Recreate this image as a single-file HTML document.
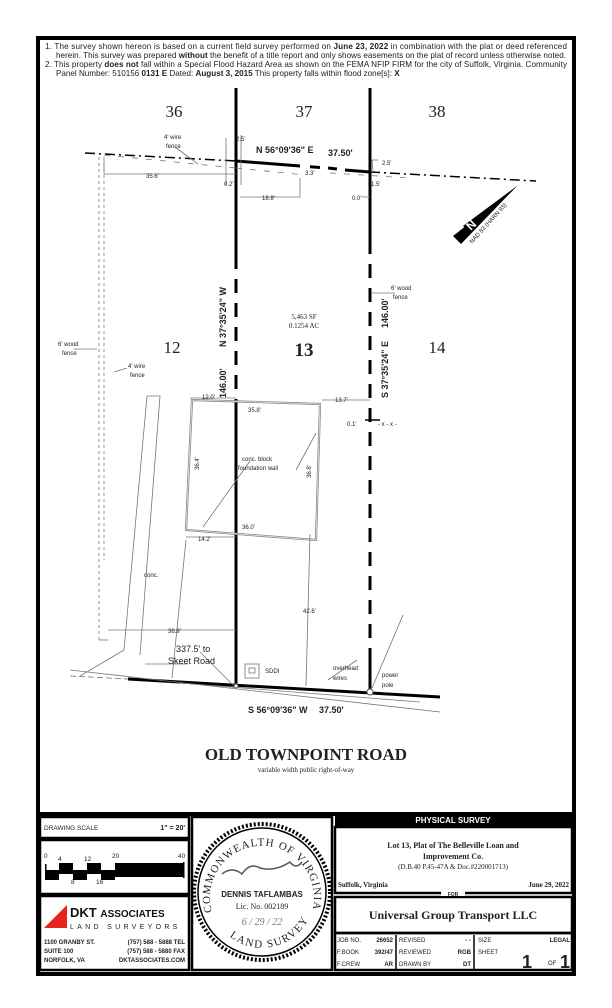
<!DOCTYPE html>
<html><head><meta charset="utf-8"><style>
html,body{margin:0;padding:0;background:#fff}
svg{display:block}
text{font-family:"Liberation Sans",sans-serif;fill:#222}
.s{font-family:"Liberation Serif",serif}
</style></head><body>
<svg width="612" height="1008" viewBox="0 0 612 1008" xmlns="http://www.w3.org/2000/svg">
<rect x="38" y="38" width="536" height="936" fill="none" stroke="#000" stroke-width="4"/>
<line x1="38" y1="814" x2="574" y2="814" stroke="#000" stroke-width="4"/>
<g font-size="8.1">
<text x="45" y="49" textLength="522" lengthAdjust="spacing">1.  The survey shown hereon is based on a current field survey performed on <tspan font-weight="bold">June 23, 2022</tspan> in combination with the plat or deed referenced</text>
<text x="56" y="58" textLength="510" lengthAdjust="spacing">herein. This survey was prepared <tspan font-weight="bold">without</tspan> the benefit of a title report and only shows easements on the plat of record unless otherwise noted.</text>
<text x="45" y="67" textLength="522" lengthAdjust="spacing">2.  This property <tspan font-weight="bold">does not</tspan> fall within a Special Flood Hazard Area as shown on the FEMA NFIP FIRM for the city of Suffolk, Virginia. Community</text>
<text x="56" y="76">Panel Number: 510156 <tspan font-weight="bold">0131 E</tspan>  Dated: <tspan font-weight="bold">August 3, 2015</tspan>  This property falls within flood zone[s]:  <tspan font-weight="bold">X</tspan></text>
</g>
<g font-size="17" text-anchor="middle">
<text class="s" x="174" y="117">36</text><text class="s" x="304" y="117">37</text><text class="s" x="437" y="117">38</text>
<text class="s" x="172" y="353">12</text><text class="s" x="304" y="356" font-weight="bold" font-size="19">13</text><text class="s" x="437" y="353">14</text>
</g>
<g stroke="#000" stroke-width="3" fill="none">
<line x1="236" y1="88" x2="236" y2="255"/>
<line x1="236" y1="255" x2="236" y2="686" stroke-dasharray="14,10"/>
<line x1="236" y1="400" x2="236" y2="686"/>
<line x1="370" y1="88" x2="370" y2="240"/>
<line x1="370" y1="240" x2="370" y2="692" stroke-dasharray="14,10"/>
<line x1="370" y1="650" x2="370" y2="692"/>
<line x1="236" y1="161" x2="300" y2="166"/>
<line x1="310" y1="166.7" x2="320" y2="167.5"/>
<line x1="328" y1="168" x2="337" y2="169"/>
<line x1="345" y1="170" x2="370" y2="172"/>
<line x1="128" y1="679" x2="440" y2="697"/>
</g>
<line x1="85" y1="153" x2="236" y2="161" stroke="#000" stroke-width="1.5" stroke-dasharray="10,4,2,4"/>
<line x1="370" y1="172" x2="536" y2="181" stroke="#000" stroke-width="1.5" stroke-dasharray="10,4,2,4"/>
<g stroke="#777" stroke-width="0.8" fill="none">
<line x1="104" y1="155" x2="236" y2="168" stroke-dasharray="6,8"/>
<line x1="236" y1="168" x2="305" y2="175" stroke-dasharray="6,8"/>
<line x1="330" y1="173" x2="410" y2="178" stroke-dasharray="6,8"/>
<line x1="99" y1="157" x2="99" y2="640" stroke-dasharray="3,3"/>
<line x1="104" y1="157" x2="104" y2="560" stroke-dasharray="3,3"/>
<line x1="99" y1="640" x2="108" y2="640"/>
<line x1="70" y1="670" x2="440" y2="712"/>
<line x1="70" y1="676" x2="128" y2="679" stroke-dasharray="6,3"/>
<line x1="180" y1="683" x2="420" y2="702"/>
<polyline points="147,396 160,396 140,655"/>
<line x1="147" y1="396" x2="124" y2="650"/>
<line x1="124" y1="650" x2="80" y2="676"/>
<line x1="186" y1="540" x2="172" y2="678"/>
<polygon points="192,400 320,404 316,540 186,530" stroke-width="2.2" stroke="#888"/>
<polygon points="192,400 320,404 316,540 186,530" stroke-width="0.6" stroke="#fff"/>
<line x1="250" y1="461" x2="203" y2="527"/>
<line x1="296" y1="470" x2="316" y2="433"/>
<line x1="310" y1="534" x2="306" y2="686"/>
<line x1="357" y1="660" x2="328" y2="680"/>
<line x1="403" y1="615" x2="372" y2="688"/>
<line x1="188" y1="664" x2="145" y2="664"/>
<line x1="200" y1="652" x2="233" y2="685"/>
<line x1="108" y1="630" x2="236" y2="630"/>
<line x1="190" y1="398" x2="236" y2="398"/>
<line x1="322" y1="400" x2="370" y2="400"/>
<line x1="186" y1="537" x2="236" y2="537"/>
<line x1="104" y1="174" x2="236" y2="174"/>
<line x1="104" y1="160" x2="104" y2="174"/>
<line x1="240" y1="197" x2="300" y2="197"/><line x1="300" y1="197" x2="300" y2="178"/>
<line x1="226" y1="138" x2="226" y2="185"/><line x1="241" y1="135" x2="241" y2="185"/>
<line x1="373" y1="171" x2="372" y2="160"/><line x1="372" y1="160" x2="378" y2="160"/>
<line x1="362" y1="197" x2="370" y2="197"/>
<line x1="365" y1="420" x2="380" y2="420" stroke="#000" stroke-width="1.5"/>
<line x1="74" y1="349" x2="97" y2="349"/>
<line x1="114" y1="372" x2="127" y2="368"/>
<line x1="395" y1="293" x2="372" y2="293"/>
<line x1="175" y1="147" x2="198" y2="164"/>
<rect x="245" y="664" width="14" height="14"/>
<rect x="249" y="668" width="6" height="5"/>
</g>
<circle cx="236" cy="686" r="2" fill="#fff" stroke="#555"/>
<circle cx="370" cy="692" r="3" fill="#fff" stroke="#555"/>
<g font-weight="bold" font-size="9">
<text x="256" y="153">N 56°09'36" E</text><text x="328" y="156">37.50'</text>
<text x="248" y="713">S 56°09'36" W</text><text x="319" y="713">37.50'</text>
<text transform="translate(226,347) rotate(-90)">N 37°35'24" W</text>
<text transform="translate(226,398) rotate(-90)">146.00'</text>
<text transform="translate(388,398) rotate(-90)">S 37°35'24" E</text>
<text transform="translate(388,328) rotate(-90)">146.00'</text>
</g>
<g font-size="6" fill="#333">
<text x="164" y="139">4' wire</text><text x="166" y="148">fence</text>
<text x="236" y="141">2.5'</text><text x="382" y="165">2.5'</text>
<text x="146" y="178">35.6'</text><text x="224" y="186">0.2'</text><text x="262" y="200">18.8'</text>
<text x="305" y="175">3.3'</text><text x="371" y="186">1.5'</text><text x="352" y="200">0.0'</text>
<text x="391" y="290">6' wood</text><text x="393" y="299">fence</text>
<text x="58" y="346">6' wood</text><text x="62" y="355">fence</text>
<text x="128" y="368">4' wire</text><text x="130" y="377">fence</text>
<text x="202" y="399">12.0'</text><text x="248" y="412">35.8'</text><text x="335" y="402">13.7'</text>
<text x="347" y="426">0.1'</text><text x="378" y="426" fill="#777">- x - x -</text>
<text x="242" y="461">conc. block</text><text x="238" y="470">foundation wall</text>
<text transform="translate(199,470) rotate(-90)">36.4'</text>
<text transform="translate(311,478) rotate(-90)">36.8'</text>
<text x="242" y="529">36.0'</text><text x="198" y="541">14.2'</text>
<text x="144" y="577">conc.</text><text x="168" y="633">36.8'</text><text x="303" y="613">42.6'</text>
<text x="265" y="673">SDDI</text><text x="333" y="670">overhead</text><text x="333" y="680">wires</text>
<text x="382" y="677">power</text><text x="382" y="687">pole</text>
</g>
<text x="176" y="652" font-size="9">337.5' to</text><text x="168" y="664" font-size="9">Skeet Road</text>
<text x="304" y="319" font-size="7" class="s" text-anchor="middle">5,463 SF</text>
<text x="304" y="328" font-size="7" class="s" text-anchor="middle">0.1254 AC</text>
<!-- north arrow -->
<polygon points="517,186 461,244 453,236" fill="#000"/>
<polygon points="517,186 470,232 463,226" fill="#000"/>
<text transform="translate(474,228) rotate(-45)" font-size="12" font-weight="bold" style="fill:#fff" text-anchor="middle">N</text>
<text transform="translate(472,244) rotate(-48)" font-size="6">NAD 83 (HARN 93)</text>
<text x="306" y="760" class="s" font-size="17" font-weight="bold" text-anchor="middle">OLD TOWNPOINT ROAD</text>
<text x="306" y="772" class="s" font-size="7" text-anchor="middle">variable width public right-of-way</text>
<g stroke="#000" fill="none" stroke-width="2.5">
<rect x="40" y="817" width="149" height="21"/>
<rect x="40" y="840" width="149" height="54"/>
<rect x="40" y="896" width="149" height="74"/>
<rect x="192" y="817" width="140" height="153"/>
<rect x="335" y="827" width="237" height="66"/>
<rect x="335" y="897" width="237" height="36"/>
<rect x="335" y="933" width="237" height="37"/>
</g>
<rect x="335" y="814" width="237" height="12" fill="#000"/>
<text x="453" y="823" font-size="8" font-weight="bold" text-anchor="middle" style="fill:#fff">PHYSICAL SURVEY</text>
<text x="44" y="830" font-size="6.5">DRAWING SCALE</text>
<text x="185" y="830" font-size="7" font-weight="bold" text-anchor="end">1" = 20'</text>
<g font-size="6.5"><text x="44" y="858">0</text><text x="58" y="861">4</text><text x="84" y="861">12</text><text x="112" y="858">20</text><text x="178" y="858">40</text><text x="71" y="884">8</text><text x="96" y="884">16</text></g>
<g fill="#000"><rect x="45" y="870" width="139" height="4"/><rect x="59" y="863" width="14" height="7"/><rect x="87" y="863" width="14" height="7"/><rect x="45" y="874" width="14" height="6"/><rect x="73" y="874" width="14" height="6"/><rect x="101" y="874" width="14" height="6"/><rect x="115" y="863" width="69" height="14"/><rect x="45" y="864" width="1.5" height="16"/><rect x="183" y="862" width="1.5" height="16"/></g>
<polygon points="44,928 67,905 67,928" fill="#e8231d"/>
<text x="70" y="917" font-size="13" font-weight="bold" style="fill:#111">DKT <tspan font-size="10">ASSOCIATES</tspan></text>
<text x="70" y="929" font-size="7" letter-spacing="3.3">LAND SURVEYORS</text>
<g font-size="6" font-weight="bold"><text x="44" y="944">1100 GRANBY ST.</text><text x="44" y="953">SUITE 100</text><text x="44" y="962">NORFOLK, VA</text>
<text x="185" y="944" text-anchor="end">(757) 588 - 5888  TEL</text><text x="185" y="953" text-anchor="end">(757) 588 - 5880  FAX</text><text x="185" y="962" text-anchor="end">DKTASSOCIATES.COM</text></g>
<circle cx="262" cy="892" r="68" fill="none" stroke="#000" stroke-width="4" stroke-dasharray="2,2"/>
<circle cx="262" cy="892" r="64" fill="none" stroke="#000" stroke-width="1.5"/>
<defs><path id="arc" d="M212,912 A52,52 0 1 1 312,912"/><path id="arc2" d="M215,918 A52,52 0 0 0 309,918"/></defs>
<text class="s" font-size="11" letter-spacing="1"><textPath href="#arc">COMMONWEALTH OF VIRGINIA</textPath></text>
<text class="s" font-size="11" letter-spacing="1.5"><textPath href="#arc2" startOffset="20%">LAND SURVEYOR</textPath></text>
<path d="M222,874 q10,-8 20,0 q8,-12 18,-6 q15,4 30,-6 q6,8 12,0" stroke="#555" stroke-width="1.5" fill="none"/>
<text x="262" y="897" font-size="8" font-weight="bold" text-anchor="middle">DENNIS TAFLAMBAS</text>
<text x="262" y="909" class="s" font-size="8" text-anchor="middle">Lic. No. 002189</text>
<text x="262" y="925" class="s" font-size="10" font-style="italic" text-anchor="middle" style="fill:#777">6 / 29 / 22</text>
<text class="s" x="453" y="848" font-size="8" font-weight="bold" text-anchor="middle">Lot 13, Plat of The Belleville Loan and</text>
<text class="s" x="453" y="859" font-size="8" font-weight="bold" text-anchor="middle">Improvement Co.</text>
<text class="s" x="453" y="869" font-size="7" text-anchor="middle">(D.B.40 P.45-47A &amp; Doc.#220001713)</text>
<text class="s" x="338" y="887" font-size="7" font-weight="bold">Suffolk, Virginia</text>
<text class="s" x="569" y="887" font-size="7" font-weight="bold" text-anchor="end">June 29, 2022</text>
<rect x="441" y="890" width="24" height="6" fill="#fff"/>
<text x="453" y="896" font-size="5" font-weight="bold" text-anchor="middle">FOR</text>
<text class="s" x="453" y="919" font-size="12" font-weight="bold" text-anchor="middle">Universal Group Transport LLC</text>
<g font-size="6"><text x="337" y="942">JOB NO.</text><text x="337" y="954">F.BOOK</text><text x="337" y="966">F.CREW</text>
<text x="393" y="942" text-anchor="end" font-weight="bold">26652</text><text x="393" y="954" text-anchor="end" font-weight="bold">392/47</text><text x="393" y="966" text-anchor="end" font-weight="bold">AR</text>
<text x="399" y="942">REVISED</text><text x="399" y="954">REVIEWED</text><text x="399" y="966">DRAWN BY</text>
<text x="471" y="942" text-anchor="end" font-weight="bold">- -</text><text x="471" y="954" text-anchor="end" font-weight="bold">RGB</text><text x="471" y="966" text-anchor="end" font-weight="bold">DT</text>
<text x="478" y="942">SIZE</text><text x="478" y="954">SHEET</text><text x="570" y="942" text-anchor="end" font-weight="bold">LEGAL</text><text x="548" y="965">OF</text></g>
<text x="522" y="968" font-size="18" font-weight="bold">1</text><text x="560" y="968" font-size="18" font-weight="bold">1</text>
<g stroke="#000" stroke-width="1.5"><line x1="396" y1="935" x2="396" y2="969"/><line x1="474" y1="935" x2="474" y2="969"/></g>
</svg>
</body></html>
